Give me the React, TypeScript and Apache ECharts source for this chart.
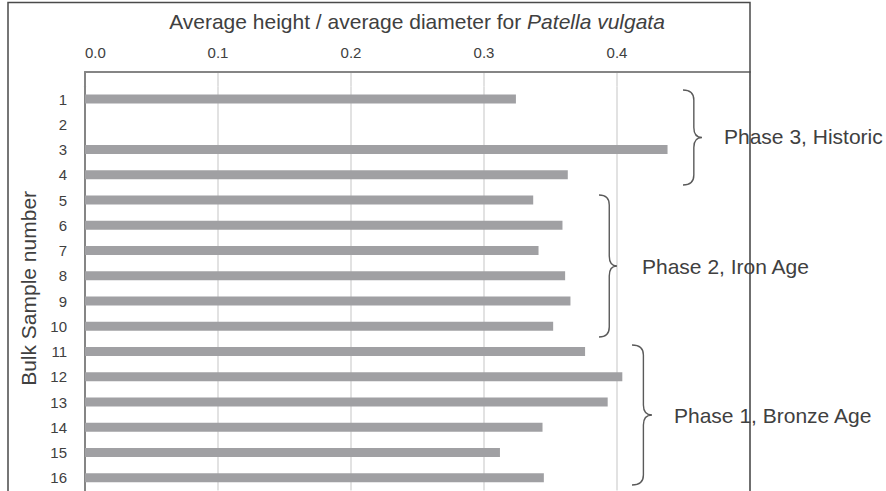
import React, { useEffect, useRef } from "react";
import * as echarts from "echarts";

const categories = ["1", "2", "3", "4", "5", "6", "7", "8", "9", "10", "11", "12", "13", "14", "15", "16"];
const ratios: (number | null)[] = [0.324, null, 0.438, 0.363, 0.337, 0.359, 0.341, 0.361, 0.365, 0.352, 0.376, 0.404, 0.393, 0.344, 0.312, 0.345];
const xTickLabels = ["0.0", "0.1", "0.2", "0.3", "0.4"];
const titleMain = "Average height / average diameter for ";
const titleItalic = "Patella vulgata";
const yName = "Bulk Sample number";
const phaseLabels = ["Phase 3, Historic", "Phase 2, Iron Age", "Phase 1, Bronze Age"];

const FONT = "'Liberation Sans', Arial, sans-serif";
const TEXT = "#404040";

function braceD(w: number, h: number) {
  const m = w * 0.57;
  const r = Math.min(10, h / 8);
  return `M0 0 Q${m} 0 ${m} ${r} L${m} ${h / 2 - r} Q${m} ${h / 2} ${w} ${h / 2} Q${m} ${h / 2} ${m} ${h / 2 + r} L${m} ${h - r} Q${m} ${h} 0 ${h}`;
}

const braces = [
  { name: "brace3", x: 683, y: 90, w: 19, h: 95, tx: 724, ty: 136 },
  { name: "brace2", x: 599, y: 195, w: 18, h: 142, tx: 642, ty: 266 },
  { name: "brace1", x: 632, y: 345, w: 20, h: 140, tx: 674, ty: 415 },
];
braces.forEach((b) => {
  echarts.graphic.registerShape(b.name, echarts.graphic.extendPath(braceD(b.w, b.h), {}) as any);
});

export default function App() {
  const ref = useRef<HTMLDivElement>(null);
  useEffect(() => {
    if (!ref.current) return;
    const chart = echarts.init(ref.current, null, { renderer: "svg" });
    const axisLineStyle = { color: "#858585", width: 2 };
    const splitLineStyle = { color: "#d9d9d9", width: 1.5 };
    const option: any = {
      animation: false,
      textStyle: { fontFamily: FONT },
      grid: [
        { left: 85, right: 136, top: 86.4, height: 404 },
        { left: 85, right: 136, top: 72, height: 14.4 },
      ],
      xAxis: [
        {
          type: "value",
          gridIndex: 0,
          position: "top",
          offset: 14.4,
          min: 0,
          max: 0.5,
          interval: 0.1,
          axisLine: { show: true, lineStyle: axisLineStyle },
          axisTick: { show: false },
          axisLabel: {
            margin: 12,
            color: TEXT,
            fontSize: 15,
            fontFamily: FONT,
            showMaxLabel: false,
            alignMinLabel: "left",
            formatter: (v: number) => {
              const i = Math.round(v * 10);
              return xTickLabels[i] ?? "";
            },
          },
          splitLine: { show: true, lineStyle: splitLineStyle },
        },
        {
          type: "value",
          gridIndex: 1,
          position: "top",
          min: 0,
          max: 0.5,
          interval: 0.1,
          axisLine: { show: false },
          axisTick: { show: false },
          axisLabel: { show: false },
          splitLine: { show: true, lineStyle: splitLineStyle },
        },
      ],
      yAxis: [
        {
          type: "category",
          gridIndex: 0,
          data: categories,
          inverse: true,
          axisLine: { show: true, lineStyle: axisLineStyle },
          axisTick: { show: false },
          axisLabel: { margin: 18, color: TEXT, fontSize: 15, fontFamily: FONT },
          name: yName,
          nameLocation: "middle",
          nameRotate: 90,
          nameGap: 44,
          nameTextStyle: { color: TEXT, fontSize: 21, fontFamily: FONT },
        },
        {
          type: "category",
          gridIndex: 1,
          data: [""],
          axisLine: { show: true, lineStyle: axisLineStyle },
          axisTick: { show: false },
          axisLabel: { show: false },
        },
      ],
      series: [
        {
          type: "bar",
          xAxisIndex: 0,
          yAxisIndex: 0,
          data: ratios.map((v) => (v == null ? "-" : v)),
          barWidth: 9,
          itemStyle: { color: "#a0a0a3" },
        },
      ],
      graphic: [
        {
          type: "rect",
          shape: { x: 8, y: 2.5, width: 742, height: 560 },
          style: { fill: "none", stroke: "#4a4a4a", lineWidth: 1.5 },
          silent: true,
          z: 100,
        },
        {
          type: "text",
          x: 417,
          y: 21,
          style: {
            text: titleMain + "{i|" + titleItalic + "}",
            fill: TEXT,
            font: `21px ${FONT}`,
            align: "center",
            verticalAlign: "middle",
            rich: { i: { fontStyle: "italic", fontSize: 21, fontFamily: FONT, fill: TEXT } },
          },
          z: 100,
        },
        ...braces.map((b) => ({
          type: b.name,
          x: b.x,
          y: b.y,
          style: { fill: "none", stroke: "#5a5a5a", lineWidth: 1.4 },
          z: 100,
        })),
        ...braces.map((b, i) => ({
          type: "text",
          x: b.tx,
          y: b.ty,
          style: {
            text: phaseLabels[i],
            fill: TEXT,
            font: `21px ${FONT}`,
            align: "left",
            verticalAlign: "middle",
          },
          z: 100,
        })),
      ],
    };
    chart.setOption(option);
    return () => chart.dispose();
  }, []);
  return (
    <div
      ref={ref}
      style={{ position: "fixed", left: 0, top: 0, width: 886, height: 491, background: "#fff" }}
    />
  );
}
